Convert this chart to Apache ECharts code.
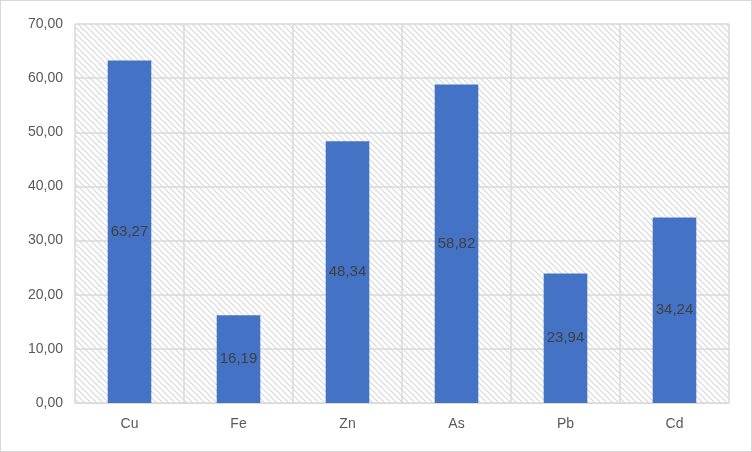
<!DOCTYPE html>
<html>
<head>
<meta charset="utf-8">
<script src="https://cdn.jsdelivr.net/npm/echarts@6/dist/echarts.min.js"></script>
<style>
  html, body { margin:0; padding:0; background:#fff; }
  #chart { width:750px; height:450px; border:1px solid #d9d9d9; }
</style>
</head>
<body>
<div id="chart"></div>
<script>
// 数据
var categories = ['Cu', 'Fe', 'Zn', 'As', 'Pb', 'Cd'];
var values = [63.27, 16.19, 48.34, 58.82, 23.94, 34.24];

// 斜线底纹
var pat = document.createElement('canvas');
pat.width = 6; pat.height = 6;
var ctx = pat.getContext('2d');
ctx.fillStyle = '#ffffff';
ctx.fillRect(0, 0, 6, 6);
ctx.strokeStyle = '#d9d9d9';
ctx.lineWidth = 1.2;
ctx.beginPath();
ctx.moveTo(0, 0); ctx.lineTo(6, 6);
ctx.moveTo(-3, 3); ctx.lineTo(3, 9);
ctx.moveTo(3, -3); ctx.lineTo(9, 3);
ctx.stroke();

function fmt(v) { return v.toFixed(2).replace('.', ','); }

var myChart = echarts.init(document.getElementById('chart'));
var option = {
  animation: false,
  grid: { left: 74, right: 22, top: 23, bottom: 48, show: true,
          backgroundColor: { image: pat, repeat: 'repeat' }, borderWidth: 0 },
  xAxis: {
    type: 'category',
    data: categories,
    axisTick: { show: false },
    axisLine: { lineStyle: { color: '#d9d9d9' } },
    axisLabel: { color: '#595959', fontSize: 14, fontFamily: 'Liberation Sans', margin: 14 },
    splitLine: { show: true, lineStyle: { color: '#d9d9d9', width: 1.5 } }
  },
  yAxis: {
    type: 'value',
    min: 0, max: 70, interval: 10,
    axisLabel: { color: '#595959', fontSize: 14, fontFamily: 'Liberation Sans', margin: 12,
                 formatter: function (v) { return fmt(v); } },
    splitLine: { lineStyle: { color: '#d9d9d9', width: 1.5 } },
    axisLine: { show: false },
    axisTick: { show: false }
  },
  series: [{
    type: 'bar',
    data: values,
    barWidth: '40%',
    itemStyle: { color: '#4472c4' },
    label: { show: true, position: 'inside', color: '#404040', fontSize: 15,
             fontFamily: 'Liberation Sans',
             formatter: function (p) { return fmt(p.value); } }
  }]
};
myChart.setOption(option);
</script>
</body>
</html>
